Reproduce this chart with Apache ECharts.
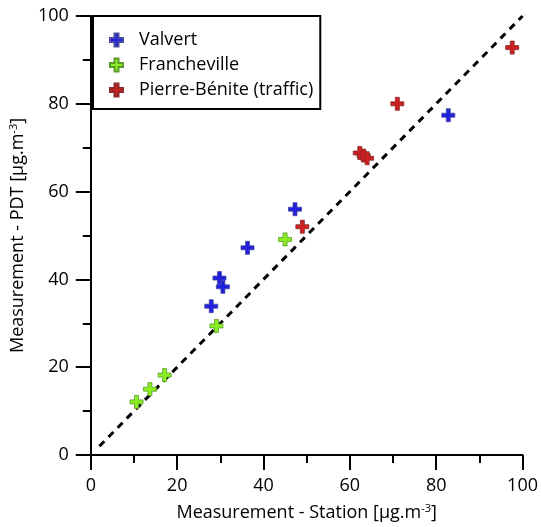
<!DOCTYPE html>
<html>
<head>
<meta charset="utf-8">
<style>
  html, body { margin: 0; padding: 0; background: #fff; }
  #chart { width: 541px; height: 527px; }
</style>
<script src="https://cdn.jsdelivr.net/npm/echarts@6/dist/echarts.min.js"></script>
</head>
<body>
<div id="chart"></div>
<script>
// Data: [station, PDT]
var valvertData = [[27.9, 33.9], [29.8, 40.3], [30.6, 38.3], [36.3, 47.2], [47.3, 56.0], [82.8, 77.4]];
var franchevilleData = [[10.6, 12.1], [13.7, 15.0], [17.1, 18.2], [29.1, 29.4], [45.0, 49.1]];
var pierreBeniteData = [[49.0, 52.0], [62.3, 68.8], [63.2, 68.2], [64.0, 67.6], [71.0, 80.0], [97.6, 92.8]];
var oneToOne = [[2, 2], [100, 100]];

var seriesNames = ["Valvert", "Francheville", "Pierre-Bénite (traffic)"];
var FONT = "'Open Sans', Lato, sans-serif";

// plus sign marker
var PLUS = "path://M4.5,0H8.5V4.5H13V8.5H8.5V13H4.5V8.5H0V4.5H4.5Z";

var myChart = echarts.init(document.getElementById("chart"));

var axisCommon = {
    min: 0,
    max: 100,
    interval: 20,
    axisLine: { show: true, onZero: false, lineStyle: { color: "#000", width: 2 } },
    axisTick: { show: true, inside: false, length: 15, lineStyle: { color: "#000", width: 2 } },
    minorTick: { show: true, splitNumber: 2, length: 8, lineStyle: { color: "#000", width: 2 } },
    splitLine: { show: false },
    axisLabel: { color: "#000", fontSize: 18, fontFamily: FONT, margin: 22 },
    nameLocation: "middle",
    nameTextStyle: {
        color: "#000",
        fontSize: 18,
        fontFamily: FONT,
        rich: {
            sup: { fontSize: 11, fontFamily: FONT, color: "#000", padding: [0, 0, 9, 0] },
        },
    },
};

function scatterSeries(name, data, color, border) {
    return {
        name: name,
        type: "scatter",
        data: data,
        symbol: PLUS,
        symbolSize: 13,
        clip: false,
        z: 3,
        itemStyle: { color: color, borderColor: border, borderWidth: 0.8, opacity: 1 },
    };
}

var option = {
    animation: false,
    textStyle: { fontFamily: FONT },
    grid: { left: 85, right: 17, top: 16, bottom: 72 },
    legend: {
        data: seriesNames,
        orient: "vertical",
        left: 93,
        top: 16,
        padding: [14, 7, 9, 16],
        itemGap: 5,
        itemWidth: 13,
        itemHeight: 13,
        borderColor: "#000",
        borderWidth: 2,
        borderRadius: 0,
        icon: PLUS,
        // push the name away from the marker
        formatter: function (name) {
            return "{t|" + name + "}";
        },
        textStyle: {
            color: "#000",
            fontSize: 18,
            fontFamily: FONT,
            lineHeight: 20,
            rich: { t: { fontSize: 18, fontFamily: FONT, color: "#000", lineHeight: 20, padding: [0, 0, 0, 11] } },
        },
    },
    xAxis: Object.assign({}, axisCommon, {
        type: "value",
        name: "Measurement - Station [µg.m{sup|-3}]",
        nameGap: 48,
    }),
    yAxis: Object.assign({}, axisCommon, {
        type: "value",
        name: "Measurement - PDT [µg.m{sup|-3}]",
        nameGap: 55,
    }),
    series: [
        {
            name: "1:1",
            type: "line",
            data: oneToOne,
            symbol: "none",
            clip: false,
            z: 2,
            lineStyle: { color: "#000", width: 3, type: [7, 6] },
        },
        scatterSeries(seriesNames[0], valvertData, "#2020e0", "#4a4aa0"),
        scatterSeries(seriesNames[1], franchevilleData, "#88ee22", "#5a9a2a"),
        scatterSeries(seriesNames[2], pierreBeniteData, "#cc2020", "#8a2a2a"),
    ],
};

myChart.setOption(option);
</script>
</body>
</html>
